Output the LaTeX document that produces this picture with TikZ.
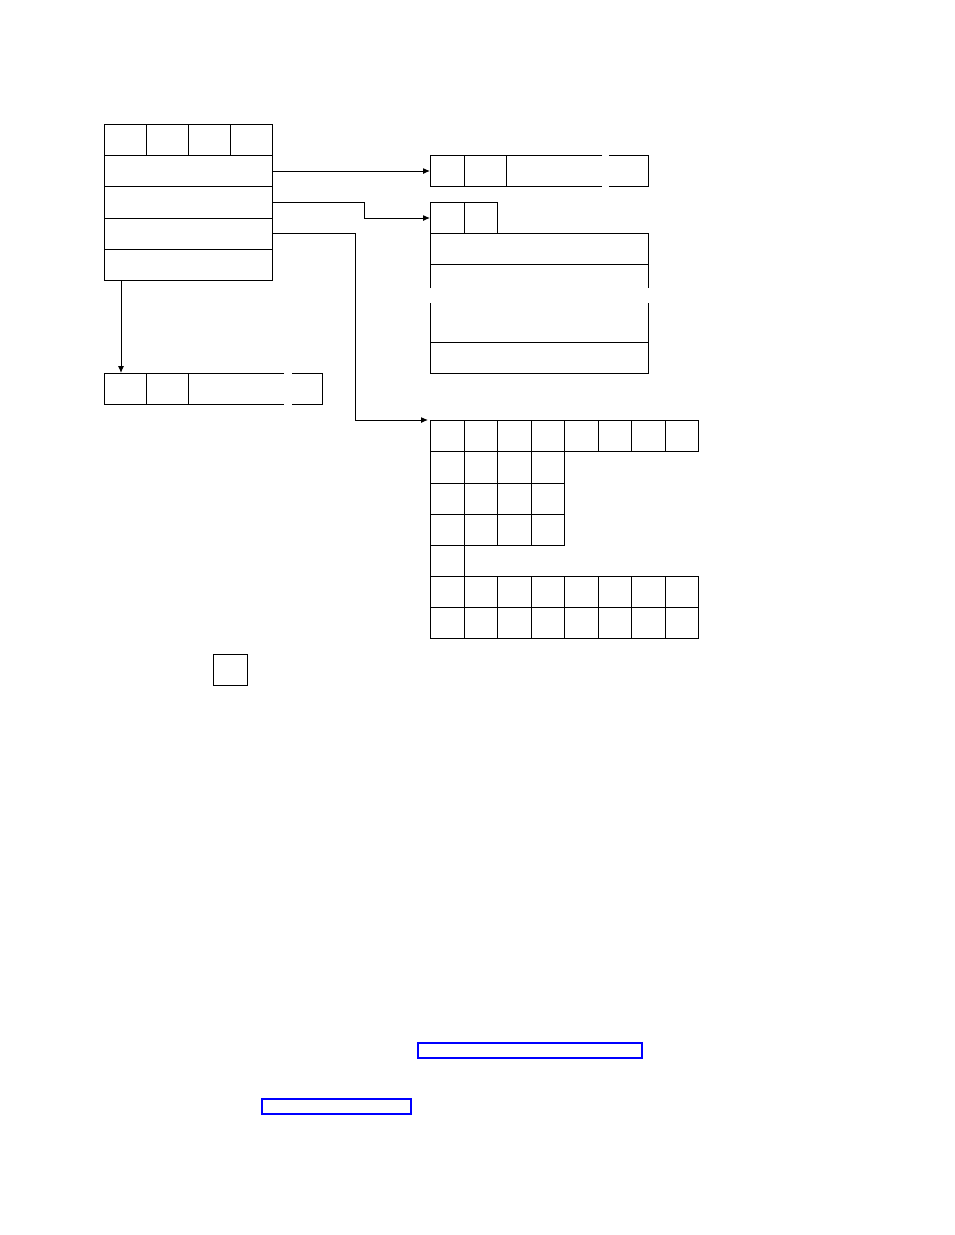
\documentclass[tikz,border=0pt]{standalone}
\usetikzlibrary{arrows.meta}
\begin{document}
\begin{tikzpicture}[x=1pt,y=-1pt,line width=1pt,
  cell/.style={draw,line width=1pt},
  conn/.style={draw,line width=1pt,-{Latex[length=7pt,width=6pt]}},
  hl/.style={draw=blue,line width=2pt}]
\useasboundingbox (0,0) rectangle (954,1235);
% structure A
\draw[cell] (104,124) rectangle (272,280);
\foreach \y in {155,186,218,249} \draw[cell] (104,\y) -- (272,\y);
\foreach \x in {146,188,230} \draw[cell] (\x,124) -- (\x,155);
\coordinate (a1) at (272,171);
\coordinate (a2) at (272,202);
\coordinate (a3) at (272,233);
\coordinate (a4) at (121,280);
% box B
\draw[cell] (602,155) -- (430,155) -- (430,186) -- (602,186);
\draw[cell] (609,155) -- (648,155) -- (648,186) -- (609,186);
\foreach \x in {464,506} \draw[cell] (\x,155) -- (\x,186);
\coordinate (b) at (430,171);
% box C
\draw[cell] (430,233) -- (430,202) -- (497,202) -- (497,233);
\draw[cell] (464,202) -- (464,233);
\draw[cell] (430,288) -- (430,233) -- (648,233) -- (648,288);
\draw[cell] (430,264) -- (648,264);
\draw[cell] (430,303) -- (430,373) -- (648,373) -- (648,303);
\draw[cell] (430,342) -- (648,342);
\coordinate (c) at (430,218);
% box D
\draw[cell] (284,373) -- (104,373) -- (104,404) -- (284,404);
\draw[cell] (292,373) -- (322,373) -- (322,404) -- (292,404);
\foreach \x in {146,188} \draw[cell] (\x,373) -- (\x,404);
\coordinate (d) at (121,373);
% grid E
\def\colx{{430,464,497.5,531,564.5,598,631.5,665,698}}
\foreach \i in {0,...,7} {
  \pgfmathsetmacro{\xa}{\colx[\i]}
  \pgfmathsetmacro{\xb}{\colx[\i+1]}
  \draw[cell] (\xa,420) rectangle (\xb,451);
  \draw[cell] (\xa,576) rectangle (\xb,607);
  \draw[cell] (\xa,607) rectangle (\xb,638);
}
\foreach \i in {0,...,3} {
  \pgfmathsetmacro{\xa}{\colx[\i]}
  \pgfmathsetmacro{\xb}{\colx[\i+1]}
  \draw[cell] (\xa,451) rectangle (\xb,483);
  \draw[cell] (\xa,483) rectangle (\xb,514);
  \draw[cell] (\xa,514) rectangle (\xb,545);
}
\draw[cell] (430,545) rectangle (464,576);
\coordinate (e) at (428,420);
% connectors
\draw[conn] (a1) -- (b);
\draw[conn] (a2) -- (364,202) -- (364,218) -- (c);
\draw[conn] (a3) -- (355,233) -- (355,420) -- (e);
\draw[conn] (a4) -- (d);
% small square
\draw[cell] (213,654) rectangle (247,685);
% blue highlights
\draw[hl] (417.7,1043) rectangle (642,1058);
\draw[hl] (262,1099) rectangle (411.3,1114);
\end{tikzpicture}
\end{document}
